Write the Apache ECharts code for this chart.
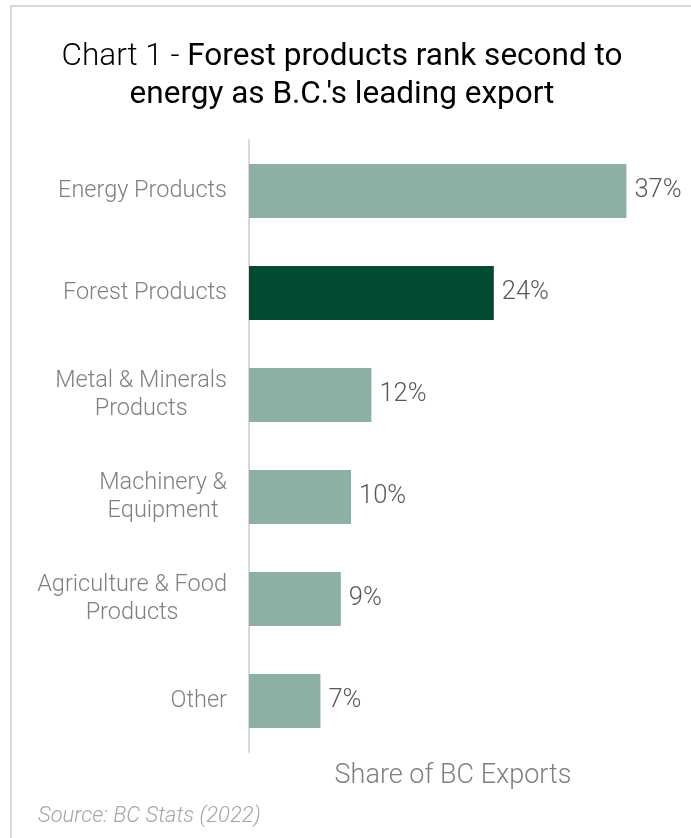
<!DOCTYPE html>
<html>
<head>
<meta charset="utf-8">
<script src="https://cdn.jsdelivr.net/npm/echarts@6/dist/echarts.min.js"></script>
<style>
  html, body { margin: 0; padding: 0; background: #fff; }
  #chart { width: 691px; height: 838px; }
</style>
</head>
<body>
<div id="chart"></div>
<script>
// Export categories, top to bottom
const categories = [
  'Energy Products',
  'Forest Products',
  'Metal & Minerals\nProducts',
  'Machinery &\nEquipment',
  'Agriculture & Food\nProducts',
  'Other'
];
// Share of BC exports, percent
const shares = [37, 24, 12, 10, 9, 7];
const highlighted = 'Forest Products';

const titleLead = 'Chart 1 - ';
const titleLine1 = 'Forest products rank second to';
const titleLine2 = "energy as B.C.'s leading export";
const sourceNote = 'Source: BC Stats (2022)';
const axisTitle = 'Share of BC Exports';

const chart = echarts.init(document.getElementById('chart'), null, { renderer: 'canvas' });

const titleFont = { fontFamily: 'Roboto', fontSize: 31.5, fill: '#000' };

const option = {
  backgroundColor: '#ffffff',
  animation: false,
  graphic: [
    {
      type: 'rect',
      shape: { x: 11, y: 6, width: 700, height: 850 },
      style: { fill: 'none', stroke: '#d9d9d9', lineWidth: 2 },
      silent: true
    },
    {
      type: 'text',
      x: 342,
      y: 57,
      style: {
        text: '{l|' + titleLead + '}{b|' + titleLine1 + '}',
        align: 'center',
        verticalAlign: 'middle',
        rich: {
          l: Object.assign({ fontWeight: 300 }, titleFont),
          b: Object.assign({ fontWeight: 400 }, titleFont)
        }
      }
    },
    {
      type: 'text',
      x: 342,
      y: 95,
      style: Object.assign({
        text: titleLine2,
        fontWeight: 400,
        align: 'center',
        verticalAlign: 'middle'
      }, titleFont)
    },
    {
      type: 'text',
      x: 38,
      y: 816,
      style: {
        text: sourceNote,
        fontFamily: 'Roboto',
        fontWeight: 300,
        fontStyle: 'italic',
        fontSize: 22,
        fill: '#a6a6a6',
        verticalAlign: 'middle'
      }
    }
  ],
  grid: { left: 249, right: 34, top: 140, bottom: 86, containLabel: false },
  xAxis: {
    type: 'value',
    min: 0,
    max: 40,
    axisLine: { show: false },
    axisTick: { show: false },
    axisLabel: { show: false },
    splitLine: { show: false },
    name: axisTitle,
    nameLocation: 'middle',
    nameGap: 11,
    nameTextStyle: {
      fontFamily: 'Roboto', fontWeight: 300, fontSize: 27, color: '#808080',
      verticalAlign: 'top'
    }
  },
  yAxis: {
    type: 'category',
    inverse: true,
    data: categories,
    axisLine: { show: true, lineStyle: { color: '#d9d9d9', width: 2 } },
    axisTick: { show: false },
    axisLabel: {
      margin: 22,
      align: 'right',
      // each line of a wrapped label is centred within the label block
      formatter: v => v.split('\n').map(line => '{c|' + line + '}').join('\n'),
      rich: {
        c: {
          align: 'center',
          fontFamily: 'Roboto',
          fontWeight: 300,
          fontSize: 23.5,
          lineHeight: 28,
          color: '#808080'
        }
      }
    }
  },
  series: [{
    type: 'bar',
    barCategoryGap: '47%',
    data: shares.map((v, i) => ({
      value: v,
      itemStyle: { color: categories[i] === highlighted ? '#004b32' : '#8db0a4' }
    })),
    label: {
      show: true,
      position: 'right',
      distance: 8,
      formatter: p => p.value + '%',
      fontFamily: 'Roboto',
      fontWeight: 300,
      fontSize: 25.5,
      color: '#595959'
    }
  }]
};

chart.setOption(option);
</script>
</body>
</html>
